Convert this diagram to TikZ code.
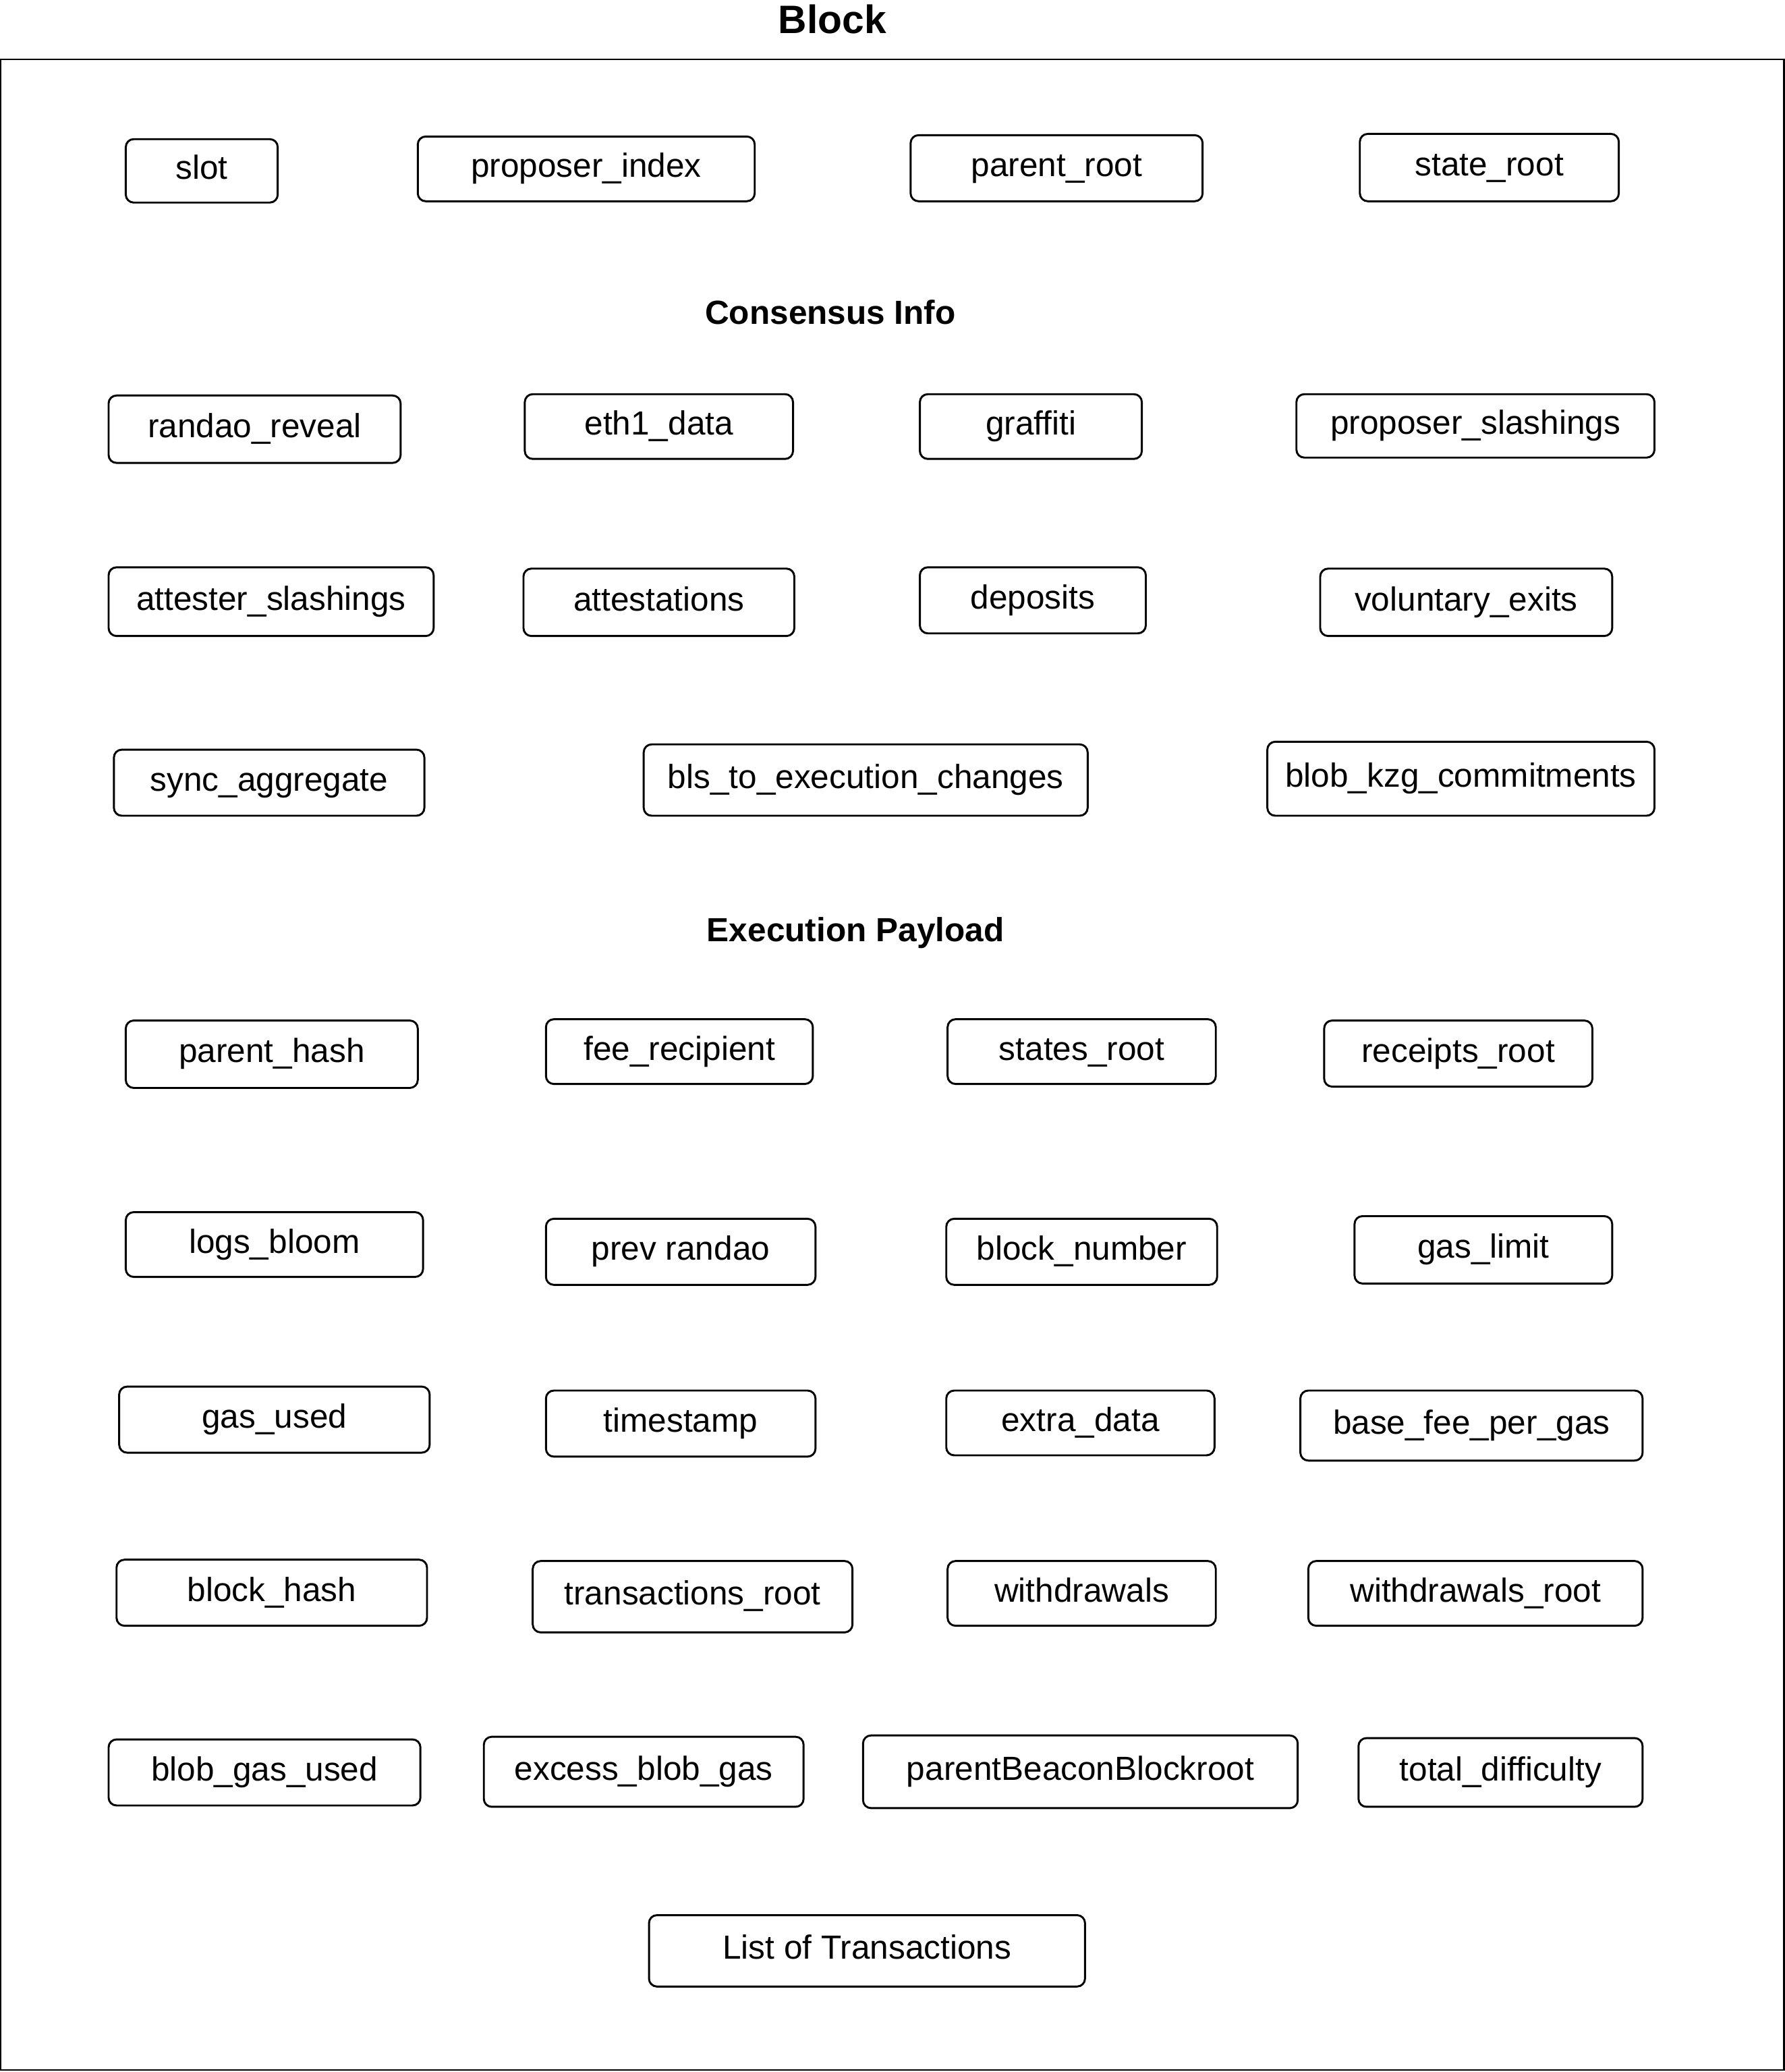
\documentclass[tikz,border=0pt]{standalone}
\usepackage{fontspec}
\setmainfont{Liberation Sans}
\begin{document}
\begin{tikzpicture}[x=1pt,y=-1pt,
  fld/.style={draw, rounded corners=6pt, line width=1.5pt, inner sep=0pt,
    font=\fontsize{25.3}{30}\selectfont, text height=19pt, text depth=6.3pt},
  hdr/.style={font=\fontsize{25.3}{30}\selectfont\bfseries, inner sep=0pt, anchor=base},
  frame/.style={draw, line width=1.2pt}]
\useasboundingbox (0,0) rectangle (1351,1568);
\draw[frame] (0.6,45) rectangle (1350.2,1566.6);
\node[hdr, font=\fontsize{30}{36}\selectfont\bfseries] (title) at (630,25.5) {Block};
% row 1
\node[fld, minimum width=115, minimum height=48] (slot) at (152.7,129.3) {slot};
\node[fld, minimum width=255, minimum height=49] (propidx) at (443.7,127.8) {proposer\_index};
\node[fld, minimum width=221, minimum height=50] (parroot) at (799.7,127.3) {parent\_root};
\node[fld, minimum width=196, minimum height=51] (stroot) at (1127.2,126.8) {state\_root};
\node[hdr] (cons) at (628.5,245.3) {Consensus Info};
% row 2
\node[fld, minimum width=221, minimum height=51] (randao) at (192.7,324.8) {randao\_reveal};
\node[fld, minimum width=203, minimum height=49] (eth1) at (498.7,322.8) {eth1\_data};
\node[fld, minimum width=168, minimum height=49] (graffiti) at (780.2,322.8) {graffiti};
\node[fld, minimum width=271, minimum height=48] (propsl) at (1116.7,322.3) {proposer\_slashings};
% row 3
\node[fld, minimum width=246, minimum height=52] (attsl) at (205.2,455.3) {attester\_slashings};
\node[fld, minimum width=205, minimum height=51] (atts) at (498.7,455.8) {attestations};
\node[fld, minimum width=171, minimum height=50] (deps) at (781.7,454.3) {deposits};
\node[fld, minimum width=221, minimum height=51] (volex) at (1109.7,455.8) {voluntary\_exits};
% row 4
\node[fld, minimum width=235, minimum height=50] (syncagg) at (203.7,592.3) {sync\_aggregate};
\node[fld, minimum width=336, minimum height=54] (bls) at (655.2,590.3) {bls\_to\_execution\_changes};
\node[fld, minimum width=293, minimum height=56] (kzg) at (1105.7,589.3) {blob\_kzg\_commitments};
\node[hdr] (exec) at (647.5,712.3) {Execution Payload};
% row 5
\node[fld, minimum width=221, minimum height=51] (parhash) at (205.7,797.8) {parent\_hash};
\node[fld, minimum width=202, minimum height=49] (feerec) at (514.2,795.8) {fee\_recipient};
\node[fld, minimum width=203, minimum height=49] (stsroot) at (818.7,795.8) {states\_root};
\node[fld, minimum width=203, minimum height=50] (rcroot) at (1103.7,797.3) {receipts\_root};
% row 6
\node[fld, minimum width=225, minimum height=49] (logs) at (207.7,941.8) {logs\_bloom};
\node[fld, minimum width=204, minimum height=50] (prevr) at (515.2,947.3) {prev randao};
\node[fld, minimum width=205, minimum height=50] (blknum) at (818.7,947.3) {block\_number};
\node[fld, minimum width=195, minimum height=51] (gaslim) at (1122.7,945.8) {gas\_limit};
% row 7
\node[fld, minimum width=235, minimum height=50] (gasused) at (207.7,1074.3) {gas\_used};
\node[fld, minimum width=204, minimum height=50] (tstamp) at (515.2,1077.3) {timestamp};
\node[fld, minimum width=203, minimum height=49] (extra) at (817.7,1076.8) {extra\_data};
\node[fld, minimum width=259, minimum height=53] (basefee) at (1113.7,1078.8) {base\_fee\_per\_gas};
% row 8
\node[fld, minimum width=235, minimum height=50] (blkhash) at (205.7,1205.3) {block\_hash};
\node[fld, minimum width=242, minimum height=54] (txroot) at (524.2,1208.3) {transactions\_root};
\node[fld, minimum width=203, minimum height=49] (wdr) at (818.7,1205.8) {withdrawals};
\node[fld, minimum width=253, minimum height=49] (wdroot) at (1116.7,1205.8) {withdrawals\_root};
% row 9
\node[fld, minimum width=236, minimum height=50] (blobused) at (200.2,1341.3) {blob\_gas\_used};
\node[fld, minimum width=242, minimum height=53] (excess) at (487.2,1340.8) {excess\_blob\_gas};
\node[fld, minimum width=329, minimum height=55] (pbbr) at (817.7,1340.8) {parentBeaconBlockroot};
\node[fld, minimum width=215, minimum height=52] (totdiff) at (1135.7,1341.3) {total\_difficulty};
% last
\node[fld, minimum width=330, minimum height=54] (txlist) at (656.2,1476.3) {List of Transactions};
\end{tikzpicture}
\end{document}
